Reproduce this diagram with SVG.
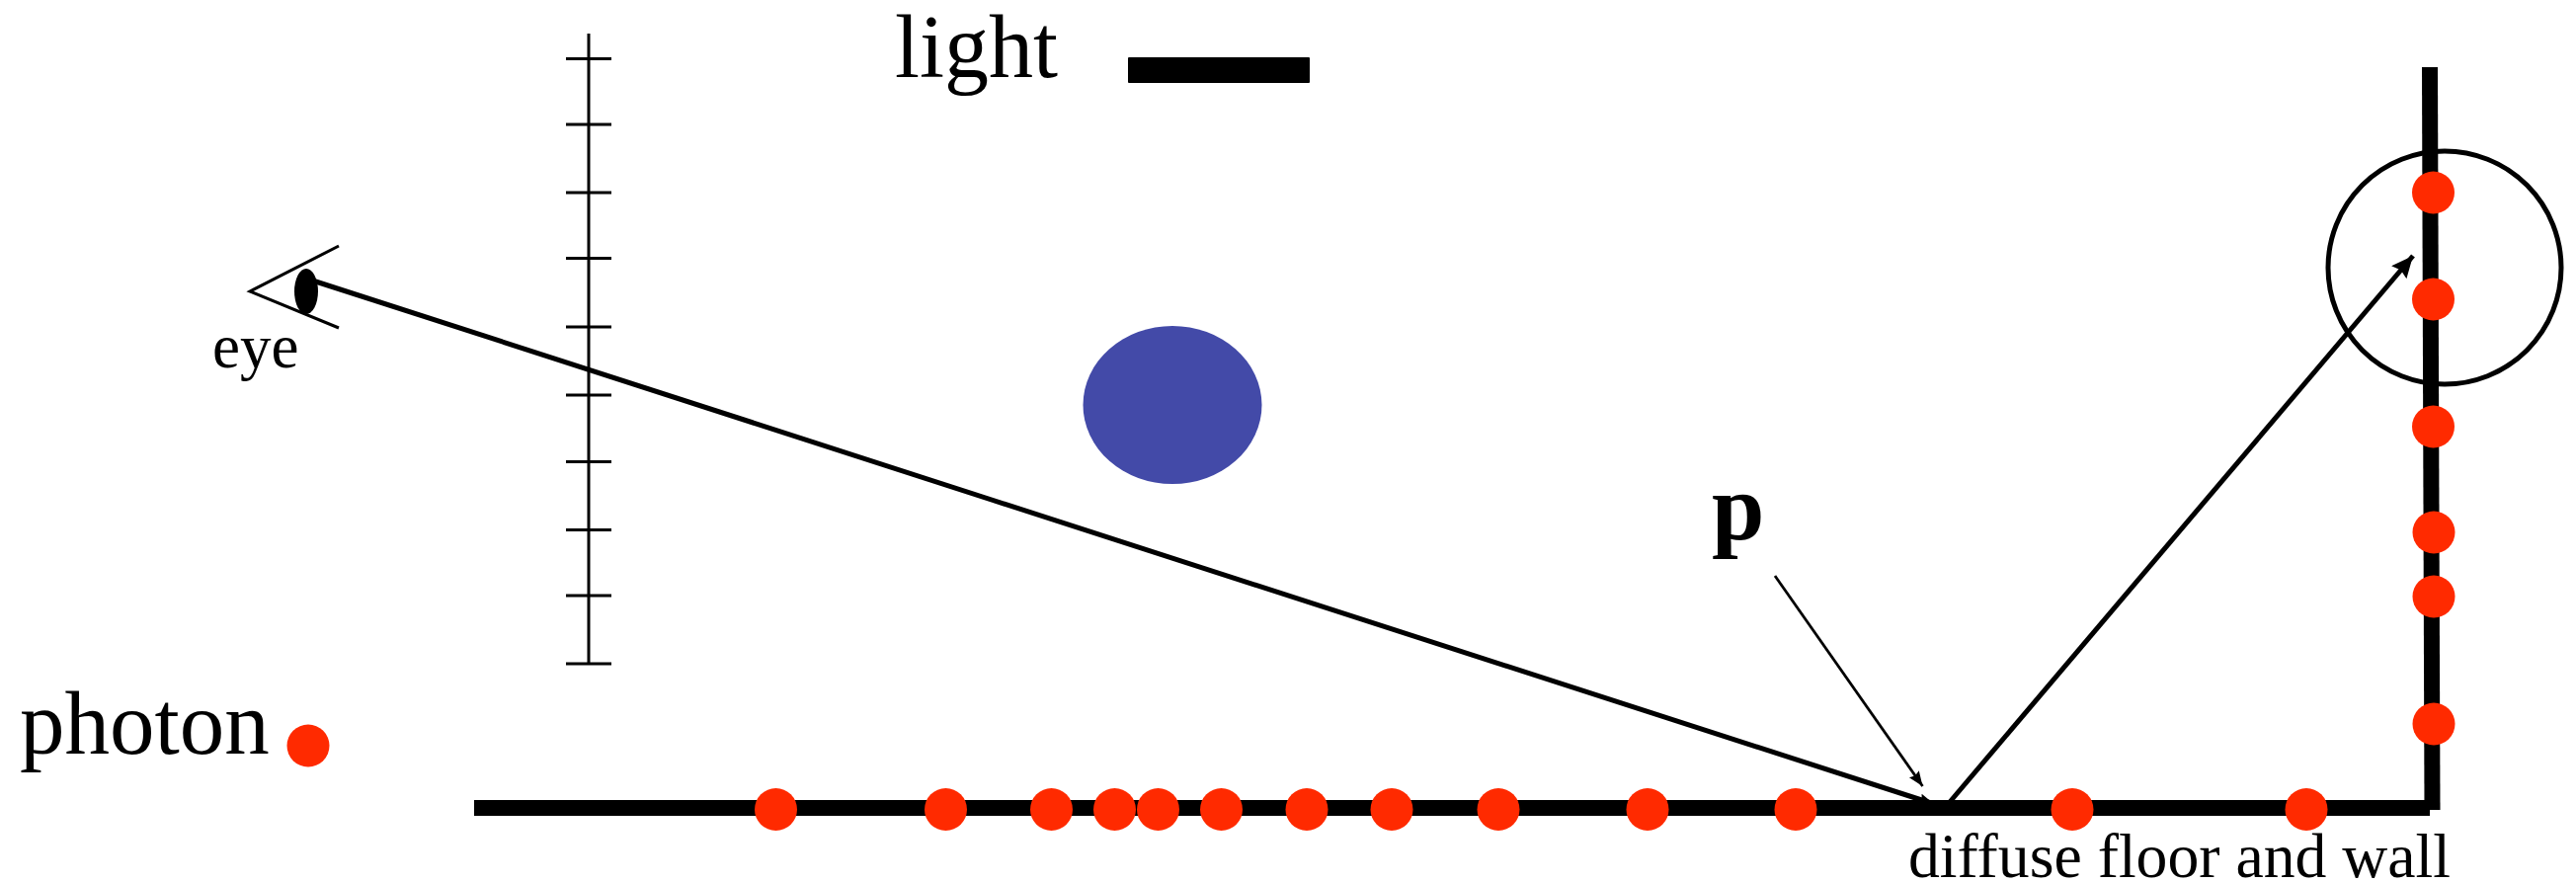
<svg xmlns="http://www.w3.org/2000/svg" width="2608" height="894" viewBox="0 0 2608 894">
<style>
text{font-family:"Liberation Serif","Times New Roman",serif;fill:#000}
.ph{fill:#ff2a00}
.tick{stroke:#000;stroke-width:3;fill:none}
.ray{stroke:#000;stroke-width:5;fill:none}
.surf{stroke:#000;stroke-width:16;fill:none}
</style>
<defs>
<marker id="big" markerUnits="userSpaceOnUse" markerWidth="26" markerHeight="22" refX="22" refY="10" orient="auto"><path d="M0 0L22 10L0 20L3 10Z" fill="#000"/></marker>
<marker id="small" markerUnits="userSpaceOnUse" markerWidth="18" markerHeight="14" refX="15" refY="6" orient="auto"><path d="M0 0L15 6L0 12L2 6Z" fill="#000"/></marker>
</defs>
<rect width="2608" height="894" fill="#fff"/>
<g id="connectors">
<path class="ray" d="M318 284.500L1958 814" marker-end="url(#small)"/>
<path class="ray" d="M1974 812L2443 259" marker-end="url(#big)"/>
<path d="M1797 583L1946.500 796" stroke="#000" stroke-width="2.800" fill="none" marker-end="url(#small)"/>
</g>
<g id="floor"><path class="surf" d="M480 818L2460 818"/></g>
<g id="wall"><path class="surf" d="M2460 68L2462.500 820"/></g>
<g id="light"><rect x="1142" y="58" width="184" height="26" rx="1" fill="#000"/><text x="906" y="78" font-size="90">light</text></g>
<g id="image-plane">
<path class="tick" d="M596 34V672M573 59.500H619M573 126H619M573 195H619M573 261.500H619M573 331H619M573 400H619M573 467.500H619M573 536.500H619M573 603H619M573 672H619"/>
</g>
<g id="eye">
<path d="M343 249L253 295L343 332" stroke="#000" stroke-width="3" fill="none"/>
<ellipse cx="310" cy="295" rx="12" ry="23" fill="#000"/>
<text x="215" y="372" font-size="63">eye</text>
</g>
<g id="object"><ellipse cx="1187" cy="410" rx="90.500" ry="80" fill="#434aa8"/></g>
<g id="search-circle"><circle cx="2475" cy="271" r="118" fill="none" stroke="#000" stroke-width="5"/></g>
<g id="p-label"><text x="1733" y="546" font-size="96" font-weight="bold">p</text></g>
<g id="surface-label"><text x="1932" y="888" font-size="64" textLength="549" lengthAdjust="spacingAndGlyphs">diffuse floor and wall</text></g>
<g id="photon-legend"><text x="20" y="763" font-size="91">photon</text><circle class="ph" cx="312" cy="755" r="21.500"/></g>
<g id="photons">
<circle class="ph" cx="2463.500" cy="195" r="21.500"/><circle class="ph" cx="2463.500" cy="303" r="21.500"/><circle class="ph" cx="2463.500" cy="432" r="21.500"/><circle class="ph" cx="2464" cy="539" r="21.500"/><circle class="ph" cx="2464" cy="604" r="21.500"/><circle class="ph" cx="2464" cy="733" r="21.500"/>
<circle class="ph" cx="785.500" cy="819.500" r="21.500"/><circle class="ph" cx="957.500" cy="819.500" r="21.500"/><circle class="ph" cx="1064.500" cy="819.500" r="21.500"/><circle class="ph" cx="1128.500" cy="819.500" r="21.500"/><circle class="ph" cx="1172.500" cy="819.500" r="21.500"/><circle class="ph" cx="1236.500" cy="819.500" r="21.500"/><circle class="ph" cx="1323" cy="819.500" r="21.500"/><circle class="ph" cx="1409" cy="819.500" r="21.500"/><circle class="ph" cx="1517" cy="819.500" r="21.500"/><circle class="ph" cx="1668" cy="819.500" r="21.500"/><circle class="ph" cx="1818" cy="819.500" r="21.500"/><circle class="ph" cx="2098" cy="819.500" r="21.500"/><circle class="ph" cx="2335" cy="819.500" r="21.500"/>
</g>
</svg>
